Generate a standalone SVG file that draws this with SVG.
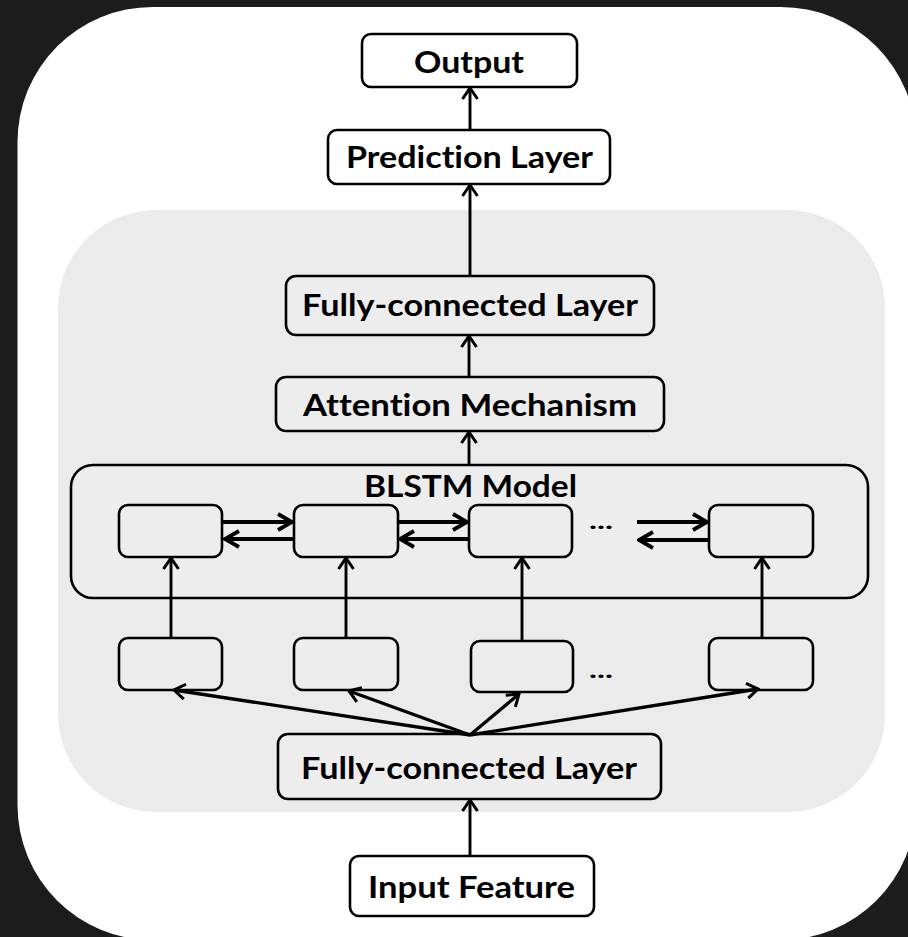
<svg xmlns="http://www.w3.org/2000/svg" width="908" height="937" viewBox="0 0 908 937">
  <style>
    .box { stroke: #000; stroke-width: 2.6; }
    .white { fill: #ffffff; }
    .grey { fill: #ededed; }
    .lbl { font-family: Lato, "Open Sans", "Liberation Sans", sans-serif; font-weight: bold; font-size: 30px; fill: #000; text-anchor: middle; font-variant-ligatures: none; }
    .dots { font-family: Lato, "Liberation Sans", sans-serif; font-weight: bold; font-size: 22px; fill: #000; }
    .conn { stroke: #000; stroke-width: 2.9; fill: none; }
    .conn-f { stroke: #000; stroke-width: 3.3; fill: none; }
    .conn-h { stroke: #000; stroke-width: 3.8; fill: none; }
  </style>
  <defs>
    <marker id="arrow" viewBox="-14 -10 16 20" refX="0" refY="0" markerWidth="16" markerHeight="20" orient="auto" markerUnits="userSpaceOnUse">
      <path d="M-11,-7.5 L0,0 L-11,7.5" fill="none" stroke="#000" stroke-width="3"/>
    </marker>
    <marker id="arrow-h" viewBox="-18 -11 20 22" refX="0" refY="0" markerWidth="20" markerHeight="22" orient="auto" markerUnits="userSpaceOnUse">
      <path d="M-14,-8 L0,0 L-14,8" fill="none" stroke="#000" stroke-width="3.8"/>
    </marker>
  </defs>

  <!-- backdrop and panels -->
  <rect x="0" y="0" width="908" height="937" fill="#1c1c1c"/>
  <rect x="17.5" y="7" width="898.5" height="933" rx="135" ry="135" fill="#ffffff"/>
  <rect x="58" y="210" width="827" height="602" rx="98" ry="98" fill="#ebebeb"/>

  <!-- nodes -->
  <g id="output">
    <rect class="box white" x="362" y="34" width="215" height="53" rx="9"/>
    <text class="lbl" x="469" y="73" textLength="110" lengthAdjust="spacingAndGlyphs">Output</text>
  </g>
  <g id="prediction-layer">
    <rect class="box white" x="328" y="130" width="282" height="54" rx="9"/>
    <text class="lbl" x="469.5" y="168" textLength="247" lengthAdjust="spacingAndGlyphs">Prediction Layer</text>
  </g>
  <g id="fc-top">
    <rect class="box grey" x="286" y="276" width="368" height="59" rx="10"/>
    <text class="lbl" x="470" y="316" textLength="336" lengthAdjust="spacingAndGlyphs">Fully-connected Layer</text>
  </g>
  <g id="attention">
    <rect class="box grey" x="276" y="377" width="388" height="54" rx="10"/>
    <text class="lbl" x="470" y="416" textLength="334" lengthAdjust="spacingAndGlyphs">Attention Mechanism</text>
  </g>
  <g id="blstm">
    <rect class="box grey" x="71" y="465" width="797" height="133" rx="22"/>
    <text class="lbl" x="470.5" y="497" textLength="213" lengthAdjust="spacingAndGlyphs">BLSTM Model</text>
    <rect class="box grey" x="119" y="505" width="103" height="52" rx="9"/>
    <rect class="box grey" x="294" y="505" width="104" height="52" rx="9"/>
    <rect class="box grey" x="469" y="505" width="103" height="52" rx="9"/>
    <rect class="box grey" x="709" y="505" width="104" height="52" rx="9"/>
    <text class="dots" x="589" y="529" textLength="24" lengthAdjust="spacingAndGlyphs">...</text>
  </g>
  <g id="inputs">
    <rect class="box grey" x="119" y="638" width="103" height="52" rx="9"/>
    <rect class="box grey" x="294" y="638" width="104" height="52" rx="9"/>
    <rect class="box grey" x="471" y="641" width="102" height="51" rx="9"/>
    <rect class="box grey" x="709" y="638" width="104" height="52" rx="9"/>
    <text class="dots" x="589" y="678" textLength="24" lengthAdjust="spacingAndGlyphs">...</text>
  </g>
  <g id="fc-bottom">
    <rect class="box grey" x="278" y="734" width="383" height="65" rx="10"/>
    <text class="lbl" x="469" y="779" textLength="336" lengthAdjust="spacingAndGlyphs">Fully-connected Layer</text>
  </g>
  <g id="input-feature">
    <rect class="box white" x="350" y="856" width="244" height="60" rx="9"/>
    <text class="lbl" x="471.5" y="898" textLength="207" lengthAdjust="spacingAndGlyphs">Input Feature</text>
  </g>

  <!-- connectors -->
  <g id="connectors">
    <line class="conn" x1="470" y1="129" x2="470" y2="88" marker-end="url(#arrow)"/>
    <line class="conn" x1="470" y1="275" x2="470" y2="185" marker-end="url(#arrow)"/>
    <line class="conn" x1="469" y1="377" x2="469" y2="336" marker-end="url(#arrow)"/>
    <line class="conn" x1="469" y1="465" x2="469" y2="432" marker-end="url(#arrow)"/>

    <!-- recurrent links between cells -->
    <line class="conn-h" x1="223" y1="522" x2="292" y2="522" marker-end="url(#arrow-h)"/>
    <line class="conn-h" x1="295" y1="539" x2="225" y2="539" marker-end="url(#arrow-h)"/>
    <line class="conn-h" x1="398" y1="522" x2="467" y2="522" marker-end="url(#arrow-h)"/>
    <line class="conn-h" x1="470" y1="539" x2="400" y2="539" marker-end="url(#arrow-h)"/>
    <line class="conn-h" x1="637" y1="522" x2="707" y2="522" marker-end="url(#arrow-h)"/>
    <line class="conn-h" x1="709" y1="540" x2="639" y2="540" marker-end="url(#arrow-h)"/>

    <!-- inputs into the cells -->
    <line class="conn" x1="171" y1="638" x2="171" y2="558" marker-end="url(#arrow)"/>
    <line class="conn" x1="346" y1="638" x2="346" y2="558" marker-end="url(#arrow)"/>
    <line class="conn" x1="522" y1="641" x2="522" y2="558" marker-end="url(#arrow)"/>
    <line class="conn" x1="762" y1="638" x2="762" y2="558" marker-end="url(#arrow)"/>

    <!-- fan-out from the lower fully-connected layer -->
    <line class="conn-f" x1="470" y1="735" x2="174" y2="690" marker-end="url(#arrow)"/>
    <line class="conn-f" x1="470" y1="735" x2="349" y2="691" marker-end="url(#arrow)"/>
    <line class="conn-f" x1="470" y1="735" x2="519" y2="694" marker-end="url(#arrow)"/>
    <line class="conn-f" x1="470" y1="735" x2="758" y2="689" marker-end="url(#arrow)"/>

    <line class="conn" x1="470" y1="856" x2="470" y2="800" marker-end="url(#arrow)"/>
  </g>
</svg>
